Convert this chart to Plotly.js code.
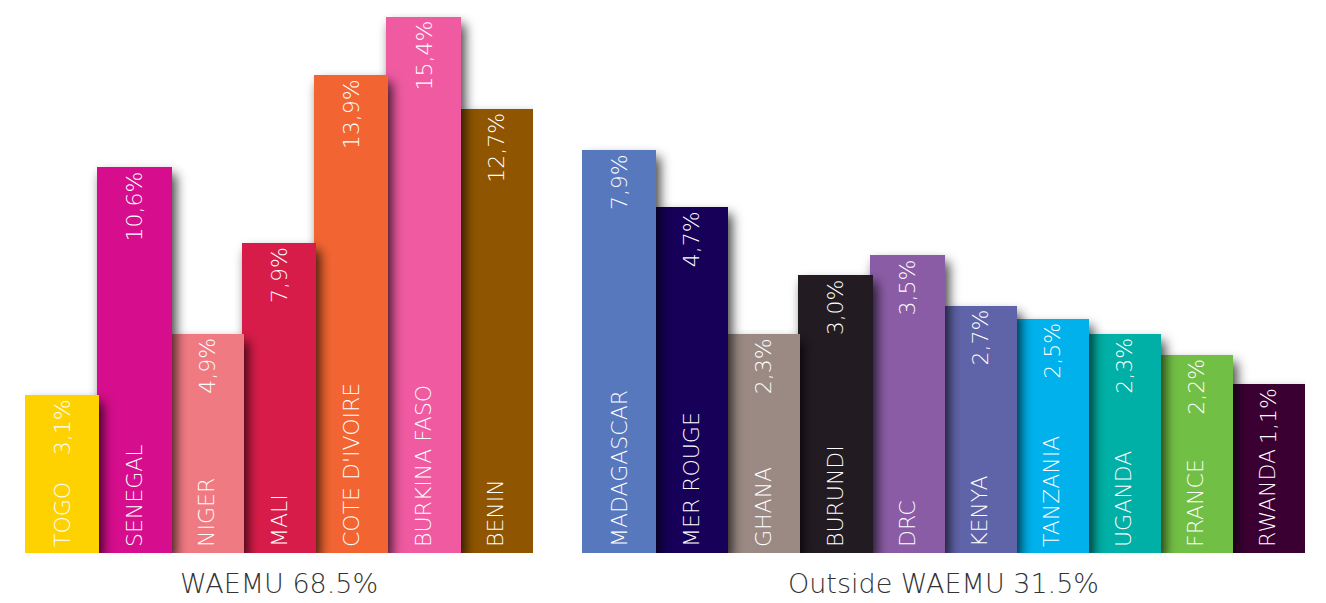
<!DOCTYPE html>
<html>
<head>
<meta charset="utf-8">
<script src="https://cdn.plot.ly/plotly-3.0.1.min.js"></script>
<style>
  html, body { margin: 0; padding: 0; background: #ffffff; }
  #chart { width: 1326px; height: 603px; }
</style>
</head>
<body>
<div id="chart"></div>
<script>
// WAEMU group
const waemuCountries = ["TOGO", "SENEGAL", "NIGER", "MALI", "COTE D'IVOIRE", "BURKINA FASO", "BENIN"];
const waemuLabels = ["3,1%", "10,6%", "4,9%", "7,9%", "13,9%", "15,4%", "12,7%"];
// visual bar heights as drawn in the reference (not proportional to the labels)
const waemuHeights = [158, 386, 219, 310, 478, 536, 444];
const waemuColors = ["#FDD200", "#D60C8C", "#F07A82", "#D81F48", "#F26531", "#EF5AA1", "#8F5500"];

// Outside WAEMU group
const otherCountries = ["MADAGASCAR", "MER ROUGE", "GHANA", "BURUNDI", "DRC", "KENYA", "TANZANIA", "UGANDA", "FRANCE", "RWANDA"];
const otherLabels = ["7,9%", "4,7%", "2,3%", "3,0%", "3,5%", "2,7%", "2,5%", "2,3%", "2,2%", "1,1%"];
const otherHeights = [403, 346, 219, 278, 298, 247, 234, 219, 198, 169];
const otherColors = ["#5878BE", "#140458", "#9B8A84", "#231F20", "#8A5BA5", "#5E63A8", "#00B1EB", "#00AFA5", "#72BF44", "#3A0030"];

const groupTitles = ["WAEMU 68.5%", "Outside WAEMU 31.5%"];

const FONT = "'DejaVu Sans', 'Open Sans', sans-serif";
const inFont = { family: FONT, size: 22, color: "#ffffff", weight: 200 };

function barTrace(cats, heights, colors, xa) {
  return {
    type: "bar",
    x: cats,
    y: heights,
    xaxis: xa,
    yaxis: "y",
    width: cats.map(() => 1.03),
    marker: { color: colors, line: { width: 0 } },
    text: cats,
    textposition: "inside",
    insidetextanchor: "start",
    textangle: -90,
    constraintext: "none",
    textfont: inFont,
    cliponaxis: false,
    hoverinfo: "skip"
  };
}

const traces = [
  barTrace(waemuCountries, waemuHeights, waemuColors, "x"),
  barTrace(otherCountries, otherHeights, otherColors, "x2")
];

const annotations = [];
function addValues(cats, heights, labels, xref) {
  cats.forEach((c, i) => {
    annotations.push({
      xref: xref, yref: "y", x: c, y: heights[i],
      text: labels[i], textangle: -90,
      xanchor: "center", yanchor: "top", yshift: -2,
      showarrow: false, font: inFont
    });
  });
}
addValues(waemuCountries, waemuHeights, waemuLabels, "x");
addValues(otherCountries, otherHeights, otherLabels, "x2");

const titleFont = { family: FONT, size: 27, color: "#333333", weight: 200 };
annotations.push({
  xref: "x domain", yref: "paper", x: 0.5, y: -0.055, yanchor: "middle",
  text: groupTitles[0], showarrow: false, font: titleFont
});
annotations.push({
  xref: "x2 domain", yref: "paper", x: 0.5, y: -0.055, yanchor: "middle",
  text: groupTitles[1], showarrow: false, font: titleFont
});

const axisOff = { visible: false, showgrid: false, zeroline: false, fixedrange: true };

const layout = {
  width: 1326, height: 603,
  margin: { l: 0, r: 0, t: 0, b: 50 },
  paper_bgcolor: "#ffffff", plot_bgcolor: "#ffffff",
  showlegend: false,
  bargap: 0,
  xaxis: Object.assign({}, axisOff, { type: "category", domain: [25 / 1326, 533 / 1326], anchor: "y" }),
  xaxis2: Object.assign({}, axisOff, { type: "category", domain: [582 / 1326, 1305 / 1326], anchor: "y" }),
  yaxis: Object.assign({}, axisOff, { range: [0, 553], domain: [0, 1] }),
  annotations: annotations
};

Plotly.newPlot("chart", traces, layout, { staticPlot: true, displayModeBar: false }).then(() => {
  const svg = document.querySelector("#chart .main-svg");
  const NS = "http://www.w3.org/2000/svg";
  let defs = svg.querySelector("defs");
  if (!defs) { defs = document.createElementNS(NS, "defs"); svg.insertBefore(defs, svg.firstChild); }
  const f = document.createElementNS(NS, "filter");
  f.setAttribute("id", "barShadow");
  f.setAttribute("x", "-30%"); f.setAttribute("y", "-30%");
  f.setAttribute("width", "160%"); f.setAttribute("height", "160%");
  const ds = document.createElementNS(NS, "feDropShadow");
  ds.setAttribute("dx", "4"); ds.setAttribute("dy", "7");
  ds.setAttribute("stdDeviation", "6");
  ds.setAttribute("flood-color", "#000000");
  ds.setAttribute("flood-opacity", "0.75");
  f.appendChild(ds);
  defs.appendChild(f);
  // draw left bars on top so each casts its shadow onto its right neighbour
  document.querySelectorAll("#chart .bars .points").forEach(g => {
    const pts = Array.from(g.children);
    pts.reverse().forEach(p => g.appendChild(p));
    g.querySelectorAll(".point path").forEach(p => p.setAttribute("filter", "url(#barShadow)"));
    // lift the country names a little off the baseline
    g.querySelectorAll("text.bartext").forEach(t => {
      const tr = t.getAttribute("transform") || "";
      t.setAttribute("transform", "translate(0,-3) " + tr);
    });
  });
});
</script>
</body>
</html>
